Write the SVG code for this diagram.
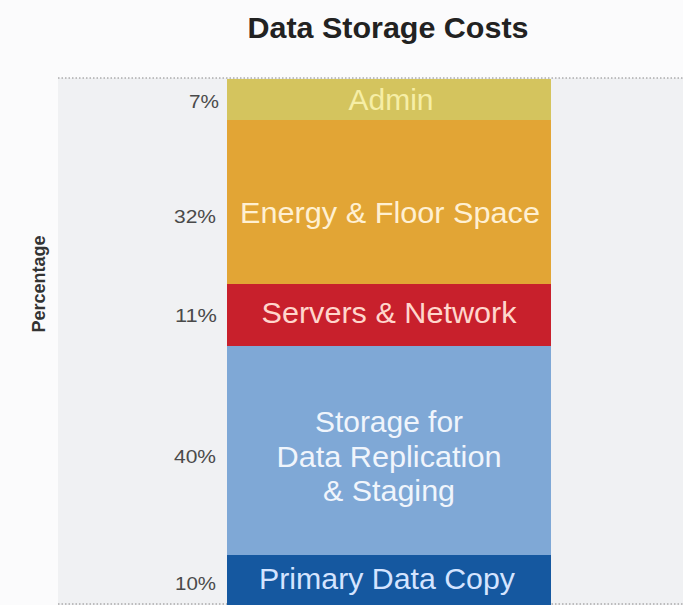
<svg xmlns="http://www.w3.org/2000/svg" width="683" height="605" viewBox="0 0 683 605">
<style>
.pct{font-family:"Liberation Sans",Arial,sans-serif;font-size:18px;fill:#4a4a4a;text-anchor:end}
.lbl{font-family:"Liberation Sans",Arial,sans-serif;font-size:29px;text-anchor:middle}
.dot{stroke:#888;stroke-width:1.2;stroke-dasharray:1.5 2}
</style>
<rect width="683" height="605" fill="#fbfbfc"/>
<rect x="58" y="78" width="625" height="527" fill="#f0f1f3"/>
<line class="dot" x1="58" y1="78" x2="683" y2="78"/>
<line class="dot" x1="58" y1="604" x2="683" y2="604"/>
<text x="388" y="38" font-family="Liberation Sans,Arial,sans-serif" font-size="30" font-weight="bold" fill="#222" text-anchor="middle" textLength="281" lengthAdjust="spacingAndGlyphs">Data Storage Costs</text>
<text transform="translate(45,284) rotate(-90)" font-family="Liberation Sans,Arial,sans-serif" font-size="18" font-weight="bold" fill="#333" text-anchor="middle">Percentage</text>
<g id="admin"><rect x="227" y="79" width="324" height="41" fill="#d4c45e"/><text class="lbl" x="391" y="110" fill="#f6eea6" textLength="85" lengthAdjust="spacingAndGlyphs">Admin</text><text class="pct" x="219" y="108" textLength="30" lengthAdjust="spacingAndGlyphs">7%</text></g>
<g id="energy"><rect x="227" y="120" width="324" height="164" fill="#e2a535"/><text class="lbl" x="390" y="223" fill="#fff0d2" textLength="300" lengthAdjust="spacingAndGlyphs">Energy &amp; Floor Space</text><text class="pct" x="216" y="223" textLength="42" lengthAdjust="spacingAndGlyphs">32%</text></g>
<g id="servers"><rect x="227" y="284" width="324" height="62" fill="#c8202c"/><text class="lbl" x="389" y="323" fill="#ffd6cc" textLength="255" lengthAdjust="spacingAndGlyphs">Servers &amp; Network</text><text class="pct" x="217" y="322" textLength="42" lengthAdjust="spacingAndGlyphs">11%</text></g>
<g id="storage"><rect x="227" y="346" width="324" height="209" fill="#7fa8d6"/><text class="lbl" x="389" y="432" fill="#f0f5fc" textLength="148" lengthAdjust="spacingAndGlyphs">Storage for</text><text class="lbl" x="389" y="467" fill="#f0f5fc" textLength="225" lengthAdjust="spacingAndGlyphs">Data Replication</text><text class="lbl" x="389" y="501" fill="#f0f5fc" textLength="132" lengthAdjust="spacingAndGlyphs">&amp; Staging</text><text class="pct" x="216" y="463" textLength="42" lengthAdjust="spacingAndGlyphs">40%</text></g>
<g id="primary"><rect x="227" y="555" width="324" height="50" fill="#1558a0"/><text class="lbl" x="387" y="589" fill="#d4e4ff" textLength="256" lengthAdjust="spacingAndGlyphs">Primary Data Copy</text><text class="pct" x="216" y="590" textLength="41" lengthAdjust="spacingAndGlyphs">10%</text></g>
<g id="connectors"></g>
</svg>
